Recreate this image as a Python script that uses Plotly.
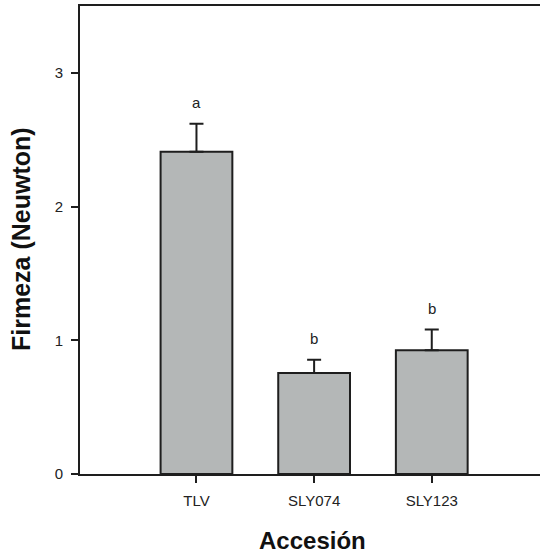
import plotly.graph_objects as go

# Fruit firmness by accession (mean + standard error) with significance letters
accessions = ["TLV", "SLY074", "SLY123"]
firmness = [2.41, 0.755, 0.925]
std_error = [0.21, 0.10, 0.155]
letters = ["a", "b", "b"]

positions = list(range(len(accessions)))

fig = go.Figure()
fig.add_trace(go.Bar(
    x=positions,
    y=firmness,
    width=0.61,
    marker=dict(color="#b4b7b7", line=dict(color="#1e1e1e", width=2)),
    error_y=dict(type="data", array=std_error, arrayminus=[0] * len(firmness),
                 symmetric=False, color="#1e1e1e", thickness=2, width=7),
    showlegend=False,
))

for xp, m, e, lab in zip(positions, firmness, std_error, letters):
    fig.add_annotation(x=xp, y=m + e, text=lab, showarrow=False, yshift=21,
                       font=dict(family="Liberation Sans, Arial", size=15, color="#222"))

fig.add_annotation(xref="paper", yref="paper", x=(312 - 80) / 460, y=(474 - 540) / 468,
                   text="<b>Accesión</b>", showarrow=False, xanchor="center", yanchor="middle",
                   font=dict(family="Liberation Sans, Arial", size=24, color="#111"))
fig.add_annotation(xref="paper", yref="paper", x=(21 - 80) / 460, y=(474 - 239) / 468,
                   text="<b>Firmeza (Neuwton)</b>", textangle=-90, showarrow=False,
                   xanchor="center", yanchor="middle",
                   font=dict(family="Liberation Sans, Arial", size=25, color="#111"))

fig.update_layout(
    width=540, height=554,
    margin=dict(l=80, r=0, t=6, b=80),
    paper_bgcolor="white", plot_bgcolor="white",
    font=dict(family="Liberation Sans, Arial", size=15, color="#222"),
)
fig.update_xaxes(
    range=[-0.99, 2.92], tickvals=positions, ticktext=accessions,
    showline=True, linecolor="#1e1e1e", linewidth=2, mirror=True,
    ticks="outside", ticklen=7, tickwidth=2, tickcolor="#1e1e1e",
    ticklabelstandoff=5,
    showgrid=False, zeroline=False,
)
fig.update_yaxes(
    range=[0, 3.5], tickvals=[0, 1, 2, 3],
    showline=True, linecolor="#1e1e1e", linewidth=2,
    ticks="outside", ticklen=7, tickwidth=2, tickcolor="#1e1e1e",
    ticklabelstandoff=5,
    showgrid=False, zeroline=False,
)

fig.write_html("out.html")
